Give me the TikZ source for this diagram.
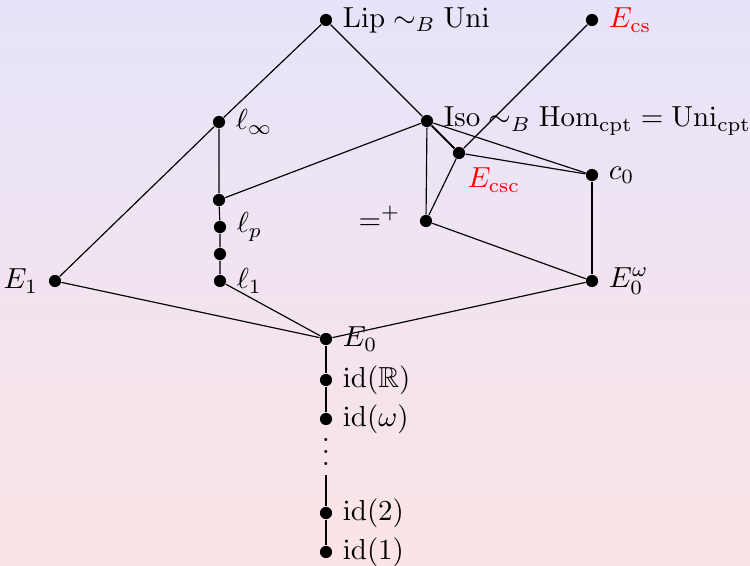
\documentclass[tikz,border=0pt]{standalone}
\usepackage{amssymb}
\definecolor{bgtop}{RGB}{230,228,250}
\definecolor{bgbot}{RGB}{252,228,230}
\begin{document}
\begin{tikzpicture}[x=0.012133cm, y=-0.012133cm,
  dot/.style={circle, fill=black, inner sep=0pt, minimum size=4.2pt},
  edge/.style={draw=black, line width=0.4pt}]
\shade[top color=bgtop, bottom color=bgbot] (0,0) rectangle (750,566);
\useasboundingbox (0,0) rectangle (750,566);
\node[dot, label=right:{$\mathrm{Lip}\sim_B\mathrm{Uni}$}] (Lip) at (326,20) {};
\node[dot, label=right:{\textcolor{red}{$E_{\mathrm{cs}}$}}] (Ecs) at (592,20) {};
\node[dot, label=right:{$\ell_\infty$}] (linf) at (219,122) {};
\node[dot, label=right:{$\mathrm{Iso}\sim_B\mathrm{Hom}_{\mathrm{cpt}}=\mathrm{Uni}_{\mathrm{cpt}}$}] (Iso) at (427,121) {};
\node[dot, label={[xshift=-2.2pt]below right:{\textcolor{red}{$E_{\mathrm{csc}}$}}}] (Ecsc) at (459,153) {};
\node[dot, label=right:{$c_0$}] (c0) at (592,175) {};
\node[dot] (lA) at (219,200) {};
\node[dot] (eqp) at (426,221) {};
\node[anchor=base east, inner sep=0pt] (eqplabel) at (401,229) {$=^+$};
\node[dot, label=right:{$\ell_p$}] (lp) at (220,227) {};
\node[dot] (lB) at (220,254) {};
\node[dot, label=right:{$\ell_1$}] (l1) at (220,281) {};
\node[dot, label=left:{$E_1$}] (E1) at (55,281) {};
\node[dot, label=right:{$E_0^\omega$}] (E0w) at (592,281) {};
\node[dot, label=right:{$E_0$}] (E0) at (326,339) {};
\node[dot, label=right:{$\mathrm{id}(\mathbb{R})$}] (idR) at (326,380) {};
\node[dot, label=right:{$\mathrm{id}(\omega)$}] (idw) at (326,419) {};
\node[anchor=base] (vd) at (326,465) {$\vdots$};
\node[dot, label=right:{$\mathrm{id}(2)$}] (id2) at (326,513) {};
\node[dot, label=right:{$\mathrm{id}(1)$}] (id1) at (326,552) {};
\path[edge] (Lip) -- (linf) -- (E1);
\path[edge] (Lip) -- (Iso);
\path[edge, line width=0.7pt] (Iso) -- (Ecsc);
\path[edge] (Iso) -- (c0);
\path[edge] (Ecsc) -- (c0);
\path[edge] (Ecs) -- (Ecsc) -- (eqp);
\path[edge] (Iso) -- (eqp);
\path[edge] (eqp) -- (E0w);
\path[edge] (c0) -- (E0w);
\path[edge] (linf) -- (lA) -- (lp) -- (lB) -- (l1);
\path[edge] (lA) -- (Iso);
\path[edge] (E1) -- (E0);
\path[edge] (l1) -- (E0);
\path[edge] (E0w) -- (E0);
\path[edge] (E0) -- (idR) -- (idw);
\path[edge] (vd) -- (id2) -- (id1);
\end{tikzpicture}
\end{document}
